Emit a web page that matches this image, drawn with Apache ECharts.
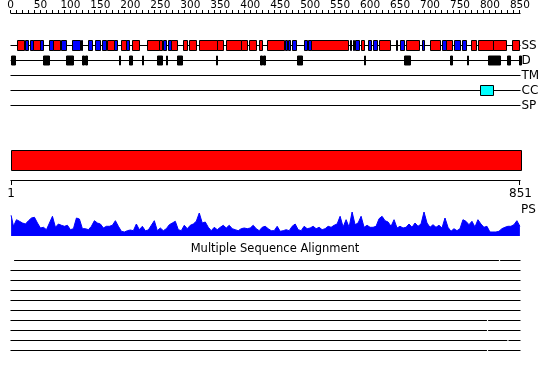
<!DOCTYPE html>
<html><head><meta charset="utf-8">
<script src="https://cdn.jsdelivr.net/npm/echarts@6/dist/echarts.min.js"></script>
<style>html,body{margin:0;padding:0;background:#fff}#c{width:550px;height:380px}</style>
</head><body><div id="c"></div>
<script>
// ---------- data ----------
const SEQ_LEN = 851;
const trackNames = ['SS', 'D', 'TM', 'CC', 'SP'];
const topTickValues = [0,10,20,30,40,50,60,70,80,90,100,110,120,130,140,150,160,170,180,190,200,210,220,230,240,250,260,270,280,290,300,310,320,330,340,350,360,370,380,390,400,410,420,430,440,450,460,470,480,490,500,510,520,530,540,550,560,570,580,590,600,610,620,630,640,650,660,670,680,690,700,710,720,730,740,750,760,770,780,790,800,810,820,830,840,850];
const topLabelStep = 50;
const scaleLabelValues = [1, 851];

// secondary structure: helix (red), strand (blue)  [start, end]
const helix = [[11,22],[37,50],[71,83],[161,172],[184,192],[203,214],[228,247],[247,252],[267,277],[288,294],[298,310],[314,344],[344,355],[360,384],[384,395],[398,410],[414,419],[428,456],[501,563],[585,590],[615,633],[660,681],[700,717],[727,736],[768,777],[780,805],[805,827],[836,848]];
const strand = [[24,30],[32,37],[50,54],[65,71],[85,93],[103,116],[117,120],[129,136],[141,149],[152,159],[172,178],[192,197],[254,260],[263,267],[458,461],[463,466],[469,476],[489,494],[497,501],[567,569],[571,573],[575,581],[596,602],[605,612],[643,644],[650,656],[686,690],[720,727],[740,750],[753,760]];
// disorder (black)
const disorder = [[1,8],[55,64],[93,105],[119,123],[125,127],[181,183],[197,202],[219,221],[245,252],[260,261],[277,287],[343,344],[417,419],[422,425],[478,486],[590,592],[657,666],[734,736],[762,764],[797,817],[829,834],[848,851]];
const transmembrane = [];
const coiledCoil = [[783,805]];
const signalPeptide = [];
const sequenceBar = [[0, 851]];

// profile score, sampled every 5 residues
const psStep = 5;
const psScore = [20.7,9.7,16.3,14.7,13,12,15.3,18,18.7,13,8,8.7,6.3,13,19.7,8.7,12,10.7,9.7,10.7,6.3,7.3,18,17,7.3,7.3,6.3,9.7,15.3,13,12,8,9.7,9.7,10.7,15.3,9.7,4.7,4,5.3,6,5.3,
12,6.3,9.7,5.3,6,10.7,15.3,5.3,8,5.3,7.3,11.3,13,14.7,6.3,5.3,10.7,7.3,10.7,12,14.7,23,13,14,8.7,5.3,8.7,6.3,8.7,10.7,8,10.7,7.3,6.3,5.3,7.3,8,7.3,8,10.7,7.3,5.3,8.7,
9.7,7.3,5.3,5.3,9.7,4.7,5.3,6.3,5.3,9.7,12,6.3,5.3,9.7,7.3,8,9.7,7.3,8.7,6.3,7.3,9.7,8.7,10.7,12,19.7,9,16.3,8.7,24,11.3,13,19.7,8.7,10.7,8.7,8.7,9.7,17.3,19.7,15.3,14,9.7,
16.3,8,9.7,8,8.7,12,8.7,13,9.7,12,24,13,8.7,11.3,8.7,10.7,8,18,8.7,4.7,7.3,5.3,7.3,16.3,14.7,11.3,14.7,9,16.3,12,8.7,9.7,4,4,4,4.7,7.3,8.7,9.7,9.7,11.3,15.3,9.7];

// multiple sequence alignment rows: covered segments
const msaRows = [
  [[6,815],[817,851]],
  [[0,851]],
  [[0,851]],
  [[0,851]],
  [[0,851]],
  [[0,851]],
  [[0,795],[797,851]],
  [[0,795],[797,851]],
  [[0,829],[831,851]],
  [[0,795],[797,851]]
];
const msaTitle = 'Multiple Sequence Alignment';

// ---------- rendering ----------
const FONT = 'DejaVu Sans';
const L = 10.5, R = 29.5;
const RULER_Y = 13, SCALE_Y = 180;   // pixel rows of the ruler / scale lines (layout)

function segLine(params, api) {
  const a = api.coord([api.value(0), api.value(2)]);
  const b = api.coord([api.value(1), api.value(2)]);
  const y = Math.floor(a[1]) + 0.5;
  return {type: 'line', shape: {x1: a[0], y1: y, x2: b[0], y2: y}, style: {stroke: '#000', lineWidth: 1}};
}
function segRect(fill, h) {
  return function (params, api) {
    const a = api.coord([api.value(0), api.value(2)]);
    const b = api.coord([api.value(1), api.value(2)]);
    const x0 = Math.round(a[0]) + 0.5, x1 = Math.round(b[0]) + 0.5;
    const cy = Math.floor(a[1]) + 0.5;
    return {type: 'rect', shape: {x: x0, y: cy - h / 2, width: Math.max(x1 - x0, 1), height: h},
      style: {fill: fill, stroke: '#000', lineWidth: 1}};
  };
}
const rows = (segs, row) => segs.map(s => [s[0], s[1], row]);

const trackLineData = trackNames.map((n, i) => [0, SEQ_LEN, i]);
const msaData = [];
msaRows.forEach((segs, i) => segs.forEach(s => msaData.push([s[0], s[1], i])));
const psData = psScore.map((v, i) => [i === 0 ? 1 : i * psStep, v]);

const hiddenX = (gi) => ({gridIndex: gi, type: 'value', min: 0, max: SEQ_LEN, show: false});
const cust = (name, xi, render, data) => ({type: 'custom', name, xAxisIndex: xi, yAxisIndex: xi,
  clip: false, renderItem: render, encode: {x: [0, 1], y: 2}, data});

const option = {
  animation: false,
  backgroundColor: '#fff',
  title: {text: msaTitle, left: 'center', top: 243, padding: 0,
    textStyle: {fontFamily: FONT, fontSize: 11.5, fontWeight: 'normal', color: '#000'}},
  grid: [
    {left: L, right: R, top: 38, height: 75},
    {left: L, right: R, top: 150, height: 20},
    {left: L, right: R, top: 211, height: 25},
    {left: L, right: R, top: 255, height: 100},
    {left: L, right: R, top: 13, height: 1}
  ],
  xAxis: [
    hiddenX(0),
    {gridIndex: 1, type: 'value', min: 0, max: SEQ_LEN, position: 'bottom', offset: 10,
      axisLine: {show: false}, axisTick: {show: false},
      axisLabel: {show: true, customValues: scaleLabelValues, margin: 8, fontFamily: FONT, fontSize: 12, color: '#000'},
      splitLine: {show: false}},
    hiddenX(2),
    hiddenX(3),
    {gridIndex: 4, type: 'value', min: 0, max: SEQ_LEN, interval: 10, position: 'top',
      axisLine: {show: false}, axisTick: {show: false},
      axisLabel: {show: true, margin: 3, showMaxLabel: false, hideOverlap: false,
        formatter: v => (v % topLabelStep === 0 ? String(v) : ''),
        fontFamily: FONT, fontSize: 10.5, color: '#000'},
      splitLine: {show: false}}
  ],
  yAxis: [
    {gridIndex: 0, type: 'category', data: trackNames, inverse: true, position: 'right',
      axisLine: {show: false}, axisTick: {show: false}, splitLine: {show: false},
      axisLabel: {interval: 0, margin: 1, fontFamily: FONT, fontSize: 12, color: '#000'}},
    {gridIndex: 1, type: 'category', data: ['seq'], show: false},
    {gridIndex: 2, type: 'value', min: 0, max: 25, show: false},
    {gridIndex: 3, type: 'category', data: msaRows.map((r, i) => 'row' + i), inverse: true, show: false},
    {gridIndex: 4, type: 'value', min: 0, max: 1, show: false}
  ],
  series: [
    cust('tracks', 0, segLine, trackLineData),
    cust('helix', 0, segRect('#ff0000', 10), rows(helix, 0)),
    cust('strand', 0, segRect('#0000ff', 10), rows(strand, 0)),
    cust('disorder', 0, segRect('#000000', 9), rows(disorder, 1)),
    cust('TM', 0, segRect('#ffff00', 10), rows(transmembrane, 2)),
    cust('CC', 0, segRect('#00ffff', 10), rows(coiledCoil, 3)),
    cust('SP', 0, segRect('#00ff00', 10), rows(signalPeptide, 4)),
    cust('sequence', 1, segRect('#ff0000', 20), rows(sequenceBar, 0)),
    {type: 'line', name: 'PS', xAxisIndex: 2, yAxisIndex: 2, data: psData, showSymbol: false, symbol: 'none',
      lineStyle: {color: '#0000ff', width: 1}, areaStyle: {color: '#0000ff', opacity: 1}},
    cust('MSA', 3, segLine, msaData)
  ]
};
const chart = echarts.init(document.getElementById('c'), null, {renderer: 'canvas', width: 550, height: 380});
chart.setOption(option);

// ruler and scale: positions converted through the axes' own scales
const px = v => chart.convertToPixel({xAxisIndex: 4}, v);
const graphics = [];
const x0 = px(0), x1 = px(SEQ_LEN);
graphics.push({type: 'rect', shape: {x: x0, y: RULER_Y, width: x1 - x0, height: 1}, style: {fill: '#000'}, z: 100});
topTickValues.forEach(v => {
  const x = Math.floor(px(v));
  graphics.push({type: 'rect', shape: {x: x, y: RULER_Y - 3, width: 1, height: 3}, style: {fill: '#000'}, z: 100});
});
graphics.push({type: 'rect', shape: {x: x0, y: SCALE_Y, width: x1 - x0, height: 1}, style: {fill: '#000'}, z: 100});
scaleLabelValues.forEach(v => {
  const x = Math.min(Math.floor(px(v)), Math.floor(x1) - 1);
  graphics.push({type: 'rect', shape: {x: x, y: SCALE_Y, width: 1, height: 5}, style: {fill: '#000'}, z: 100});
});
graphics.push({type: 'text', left: 521, top: 203.5, z: 100, style: {text: 'PS', font: '12px "DejaVu Sans"', fill: '#000'}});
chart.setOption({graphic: graphics});
</script>
</body></html>
